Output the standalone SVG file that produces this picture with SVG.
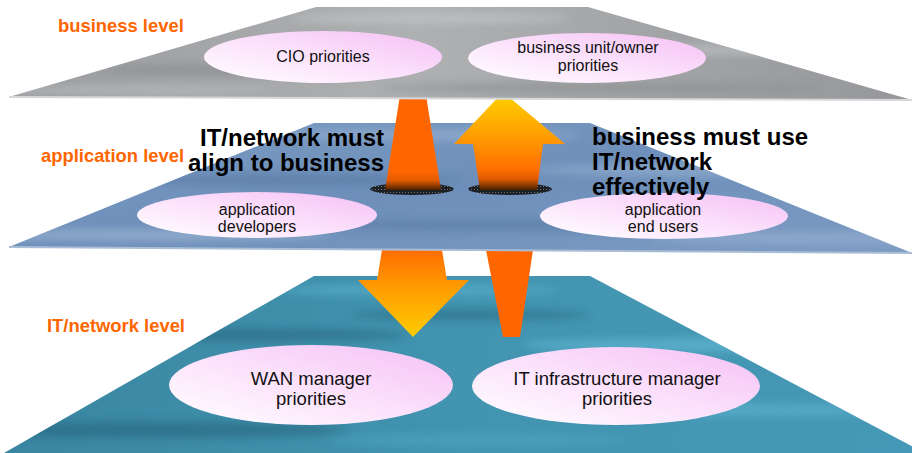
<svg xmlns="http://www.w3.org/2000/svg" width="912" height="453" viewBox="0 0 912 453">
<defs>
<style>
.lvl{font-family:"Liberation Sans",Arial,sans-serif;font-weight:bold;font-size:18.4px;fill:#FF6600}
.big{font-family:"Liberation Sans",Arial,sans-serif;font-weight:bold;font-size:24px;fill:#000}
.lbl{font-family:"Liberation Sans",Arial,sans-serif;font-size:16px;fill:#111;text-anchor:middle}
.lbl2{font-family:"Liberation Sans",Arial,sans-serif;font-size:18.5px;fill:#111;text-anchor:middle}
.node{fill:url(#pink)}
</style>
<linearGradient id="pink" x1="0" y1="1" x2="1" y2="0">
<stop offset="0" stop-color="#FFFFFF"/>
<stop offset="0.45" stop-color="#FCE4FC"/>
<stop offset="1" stop-color="#F5C0F5"/>
</linearGradient>
<linearGradient id="grayG" x1="0" y1="0" x2="1" y2="0">
<stop offset="0" stop-color="#9A9C9F"/>
<stop offset="0.45" stop-color="#AEB0B2"/>
<stop offset="1" stop-color="#95979A"/>
</linearGradient>
<linearGradient id="blueG" x1="0" y1="0" x2="1" y2="1">
<stop offset="0" stop-color="#7C9BC2"/>
<stop offset="0.5" stop-color="#6D8FBA"/>
<stop offset="1" stop-color="#7E9CC3"/>
</linearGradient>
<linearGradient id="tealG" x1="0" y1="0" x2="1" y2="0">
<stop offset="0" stop-color="#3A86A2"/>
<stop offset="0.5" stop-color="#4294B0"/>
<stop offset="1" stop-color="#4699B6"/>
</linearGradient>
<linearGradient id="upL" x1="0" y1="97" x2="0" y2="190" gradientUnits="userSpaceOnUse">
<stop offset="0" stop-color="#FF6600"/>
<stop offset="0.8" stop-color="#FF6600"/>
<stop offset="0.9" stop-color="#E05A00"/>
<stop offset="1" stop-color="#4A2200"/>
</linearGradient>
<linearGradient id="upR" x1="0" y1="97" x2="0" y2="190" gradientUnits="userSpaceOnUse">
<stop offset="0" stop-color="#FFCC00"/>
<stop offset="0.45" stop-color="#FF9A00"/>
<stop offset="0.78" stop-color="#FF6E00"/>
<stop offset="0.88" stop-color="#E05A00"/>
<stop offset="1" stop-color="#4A2200"/>
</linearGradient>
<linearGradient id="down" x1="0" y1="252" x2="0" y2="337" gradientUnits="userSpaceOnUse">
<stop offset="0" stop-color="#FF6F00"/>
<stop offset="0.4" stop-color="#FF9A00"/>
<stop offset="1" stop-color="#FFCC00"/>
</linearGradient>
<pattern id="hatch" width="3" height="3" patternUnits="userSpaceOnUse">
<rect width="3" height="3" fill="#1C1F24"/>
<rect width="1" height="1" fill="#6A7078"/>
</pattern>
<filter id="blur" x="-20%" y="-200%" width="140%" height="500%">
<feGaussianBlur stdDeviation="4"/>
</filter>
<clipPath id="cGray"><polygon points="316,7 588,7 912,100 9,97"/></clipPath>
<clipPath id="cBlue"><polygon points="314,123 590,123 912,253 9,247"/></clipPath>
<clipPath id="cTeal"><polygon points="314,276 590,276 925,453 4,453"/></clipPath>
</defs>
<rect width="912" height="453" fill="#FFFFFF"/>

<!-- IT/network plane -->
<g id="plane-it">
<polygon points="314,276 590,276 925,453 4,453" fill="url(#tealG)"/>
<g clip-path="url(#cTeal)" filter="url(#blur)" opacity="0.7">
<ellipse cx="420" cy="290" rx="140" ry="6" fill="#5AAECB"/>
<ellipse cx="250" cy="335" rx="160" ry="6" fill="#2C6C86"/>
<ellipse cx="700" cy="345" rx="180" ry="7" fill="#62B6D2"/>
<ellipse cx="470" cy="315" rx="120" ry="5" fill="#2E7089"/>
<ellipse cx="150" cy="430" rx="200" ry="8" fill="#2B6A83"/>
<ellipse cx="720" cy="410" rx="200" ry="7" fill="#5BB0CC"/>
<ellipse cx="480" cy="440" rx="150" ry="6" fill="#4FA3C0"/>
</g>
</g>

<!-- lower connectors -->
<g id="connectors-lower">
<polygon points="382,250 442,250 447,280 469,280 413,337 358,280 377,280" fill="url(#down)"/>
<polygon points="486,250 533,250 520,337 503,337" fill="#FF6600"/>
</g>

<!-- application plane -->
<g id="plane-app">
<polygon points="314,123 590,123 912,253 9,247" fill="url(#blueG)"/>
<g clip-path="url(#cBlue)" filter="url(#blur)" opacity="0.7">
<ellipse cx="430" cy="135" rx="150" ry="5" fill="#9AB3D2"/>
<ellipse cx="300" cy="180" rx="160" ry="6" fill="#5A7CA6"/>
<ellipse cx="700" cy="170" rx="170" ry="6" fill="#94AECF"/>
<ellipse cx="150" cy="235" rx="180" ry="6" fill="#9CB4D2"/>
<ellipse cx="520" cy="225" rx="200" ry="6" fill="#5C7EA8"/>
<ellipse cx="800" cy="238" rx="150" ry="5" fill="#98B1D0"/>
</g>
<line x1="9" y1="247" x2="912" y2="253" stroke="#A9BDD6" stroke-width="2"/>
</g>

<!-- holes -->
<ellipse cx="412" cy="189" rx="42" ry="6" fill="url(#hatch)"/>
<ellipse cx="510" cy="189" rx="42" ry="6" fill="url(#hatch)"/>

<!-- upper connectors -->
<g id="connectors-upper">
<polygon points="400,95 426,95 441,190 385,190" fill="url(#upL)"/>
<polygon points="503,92 565,144 543,144 537,190 480,190 473,144 454,144" fill="url(#upR)"/>
</g>

<!-- business plane -->
<g id="plane-business">
<polygon points="316,7 588,7 912,100 9,97" fill="url(#grayG)"/>
<g clip-path="url(#cGray)" filter="url(#blur)" opacity="0.7">
<ellipse cx="430" cy="18" rx="140" ry="5" fill="#C4C6C8"/>
<ellipse cx="250" cy="70" rx="150" ry="6" fill="#8A8C8F"/>
<ellipse cx="720" cy="50" rx="160" ry="5" fill="#C0C2C4"/>
<ellipse cx="120" cy="90" rx="150" ry="5" fill="#B8BABC"/>
<ellipse cx="600" cy="88" rx="220" ry="5" fill="#8C8E91"/>
</g>
<line x1="9" y1="97" x2="912" y2="100" stroke="#D6D7D8" stroke-width="2"/>
</g>

<!-- level labels -->
<text class="lvl" x="58" y="32">business level</text>
<text class="lvl" x="41" y="162">application level</text>
<text class="lvl" x="47" y="332">IT/network level</text>

<!-- nodes -->
<g id="cio">
<ellipse class="node" cx="323" cy="57" rx="119" ry="26"/>
<text class="lbl" x="323" y="62">CIO priorities</text>
</g>
<g id="business-unit">
<ellipse class="node" cx="587" cy="58" rx="119" ry="25"/>
<text class="lbl" x="588" y="53">business unit/owner</text>
<text class="lbl" x="588" y="71">priorities</text>
</g>
<g id="app-developers">
<ellipse class="node" cx="257" cy="215" rx="120" ry="23"/>
<text class="lbl" x="257" y="215">application</text>
<text class="lbl" x="257" y="232">developers</text>
</g>
<g id="app-end-users">
<ellipse class="node" cx="664" cy="216" rx="124" ry="23"/>
<text class="lbl" x="663" y="215">application</text>
<text class="lbl" x="663" y="232">end users</text>
</g>
<g id="wan-manager">
<ellipse class="node" cx="311" cy="385" rx="142" ry="40"/>
<text class="lbl2" x="311" y="385">WAN manager</text>
<text class="lbl2" x="311" y="405">priorities</text>
</g>
<g id="it-infra-manager">
<ellipse class="node" cx="616" cy="386" rx="144" ry="39"/>
<text class="lbl2" x="617" y="385">IT infrastructure manager</text>
<text class="lbl2" x="617" y="405">priorities</text>
</g>

<!-- big statements -->
<text class="big" x="384" y="146" text-anchor="end">IT/network must</text>
<text class="big" x="384" y="171" text-anchor="end">align to business</text>
<text class="big" x="592" y="145">business must use</text>
<text class="big" x="592" y="170">IT/network</text>
<text class="big" x="592" y="195">effectively</text>
</svg>
